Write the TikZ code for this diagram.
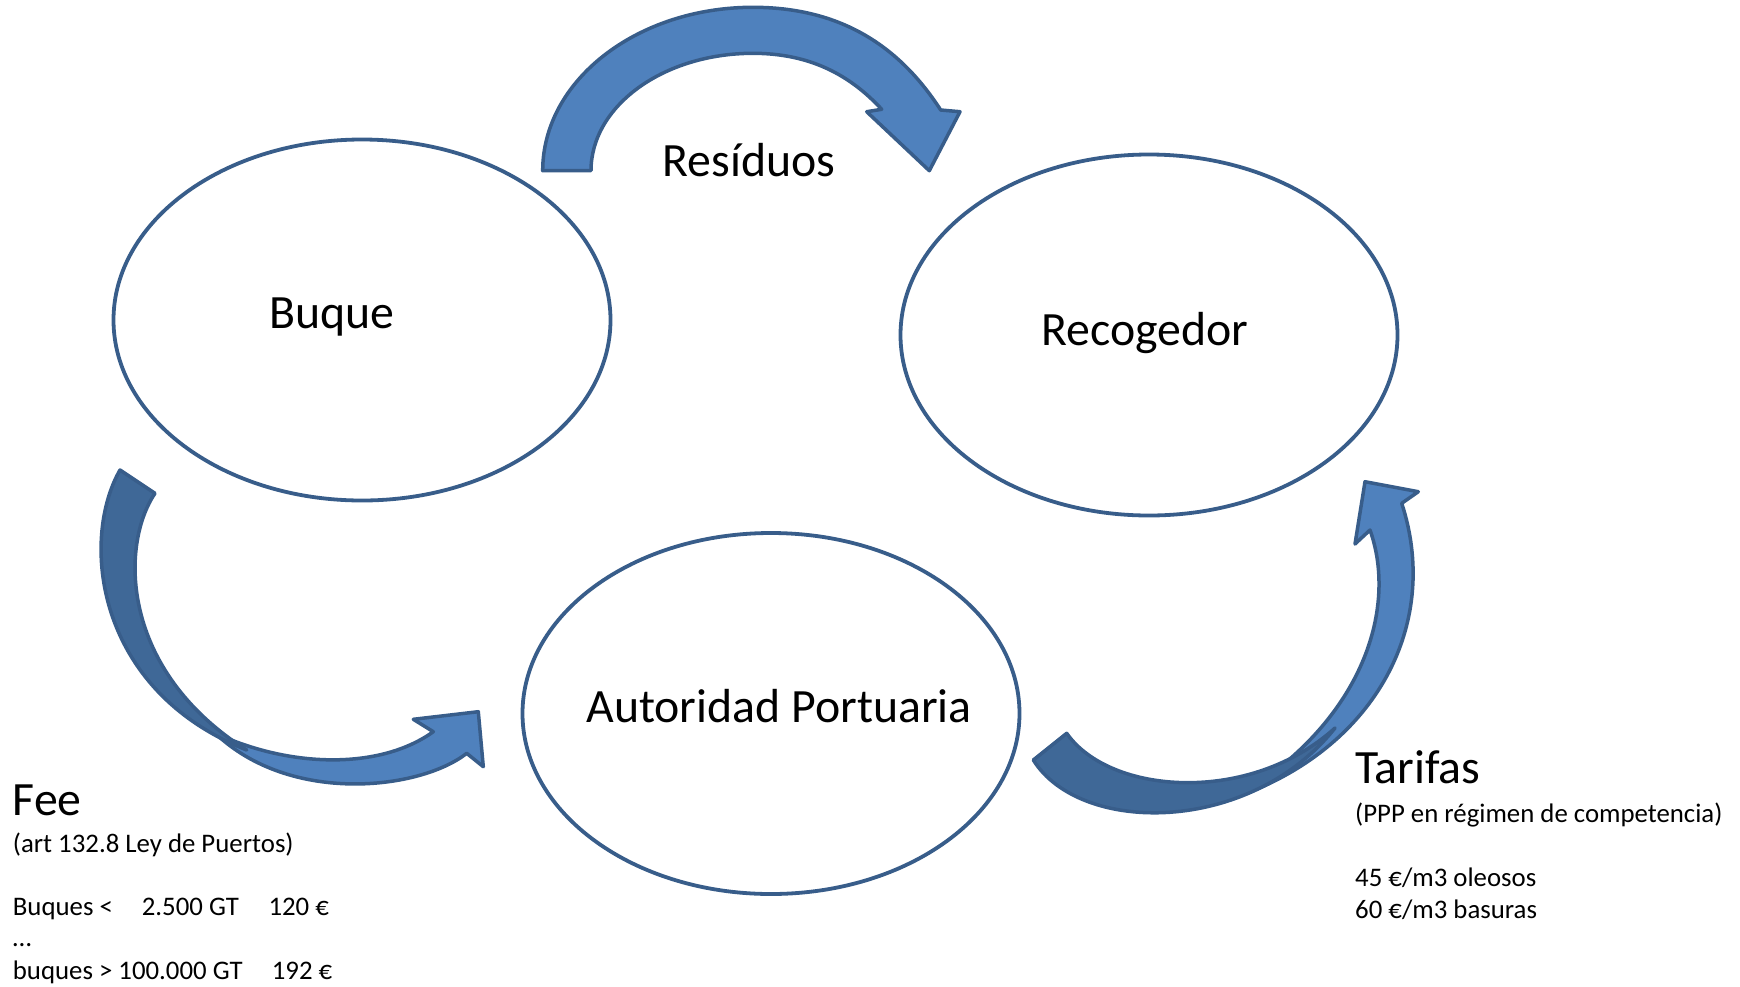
\documentclass[tikz,border=0pt]{standalone}
\usepackage{fontspec}
\setmainfont{Carlito}
\usetikzlibrary{shapes.geometric}
\definecolor{lightblue}{HTML}{4F81BD}
\definecolor{darkfill}{HTML}{3F6897}
\definecolor{outline}{HTML}{385D8A}
\tikzset{
  bubble/.style={ellipse, draw=outline, line width=3.8pt, fill=white, inner sep=0pt,
    minimum width=497pt, minimum height=361pt},
  bigtext/.style={font=\fontsize{47.8}{56}\selectfont, inner sep=0pt},
  smalltext/.style={font=\fontsize{26.8}{32}\selectfont, inner sep=0pt, anchor=base west},
  lightarrow/.style={fill=lightblue, draw=outline, line width=3.5pt, line join=round},
  darkarrow/.style={fill=darkfill, draw=outline, line width=3.5pt, line join=round},
}
\begin{document}
\begin{tikzpicture}[x=1pt, y=-1pt]
\useasboundingbox (0,0) rectangle (1740,986);

% ellipses
\node[bubble] (buque) at (362,320) {};
\node[bubble] (recog) at (1149,335) {};
\node[bubble] (autor) at (771,713.5) {};

% top arrow (Residuos)
\filldraw[lightarrow]
  (542.7,170.7) .. controls (542.7,80.5) and (637,7.3) .. (753,7.3)
  .. controls (850,7.3) and (905,55) .. (940.7,110)
  -- (960,111.7) -- (929.3,170.7) -- (866.7,111.7) -- (881.7,109.3)
  .. controls (850,75) and (810,53.3) .. (753,53.3)
  .. controls (663.5,53.3) and (591,105.9) .. (591,170.7)
  -- cycle;

% bottom-left arrow (Fee)
\filldraw[lightarrow]
  (215,733) .. controls (290,768) and (380,770) .. (433.3,731.7)
  -- (413.3,719.3) -- (478.3,711.7) -- (483.3,766.7) -- (466.7,753.3)
  .. controls (420,790) and (290,805) .. (215,733)
  -- cycle;
\filldraw[darkarrow]
  (120,470) .. controls (80,540) and (95,690) .. (246.7,750)
  .. controls (120,670) and (120,545) .. (155,493.3)
  -- cycle;

% bottom-right arrow (Tarifas)
\filldraw[lightarrow]
  (1250,792) .. controls (1380,740) and (1440,620) .. (1401.7,503.3)
  -- (1418.3,491.7) -- (1365,481.7) -- (1355,544) -- (1370,530)
  .. controls (1395,600) and (1370,700) .. (1270,775)
  -- cycle;
\filldraw[darkarrow]
  (1033.3,760) .. controls (1080,835) and (1250,835) .. (1335,728)
  .. controls (1250,805) and (1110,795) .. (1066.7,733.3)
  -- cycle;

% labels in ellipses
\node[bigtext, anchor=base] (tbuque) at (332,328.3) {Buque};
\node[bigtext, anchor=base] (trecog) at (1144.7,345) {Recogedor};
\node[bigtext, anchor=base] (tautor) at (779,722.7) {Autoridad Portuaria};
\node[bigtext, anchor=base] (tresid) at (749,176.7) {Resíduos};

% Fee block
\node[bigtext, anchor=base west] (fee) at (12.7,815) {Fee};
\node[smalltext] (feeref) at (12.7,852.5) {(art 132.8 Ley de Puertos)};
\node[smalltext] (fa1) at (12.7,915) {Buques <};
\node[smalltext] (fa2) at (141.7,915) {2.500 GT};
\node[smalltext] (fa3) at (268.3,915) {120 €};
\node[smalltext] (fdots) at (12.7,946) {\dots};
\node[smalltext] (fb1) at (12.7,979.5) {buques > 100.000 GT};
\node[smalltext] (fb2) at (271.7,979.5) {192 €};

% Tarifas block
\node[bigtext, anchor=base west] (tarifas) at (1355,783) {Tarifas};
\node[smalltext] (tref) at (1355,822) {(PPP en régimen de competencia)};
\node[smalltext] (t1) at (1355,886) {45 €/m3 oleosos};
\node[smalltext] (t2) at (1355,918) {60 €/m3 basuras};
\end{tikzpicture}
\end{document}
